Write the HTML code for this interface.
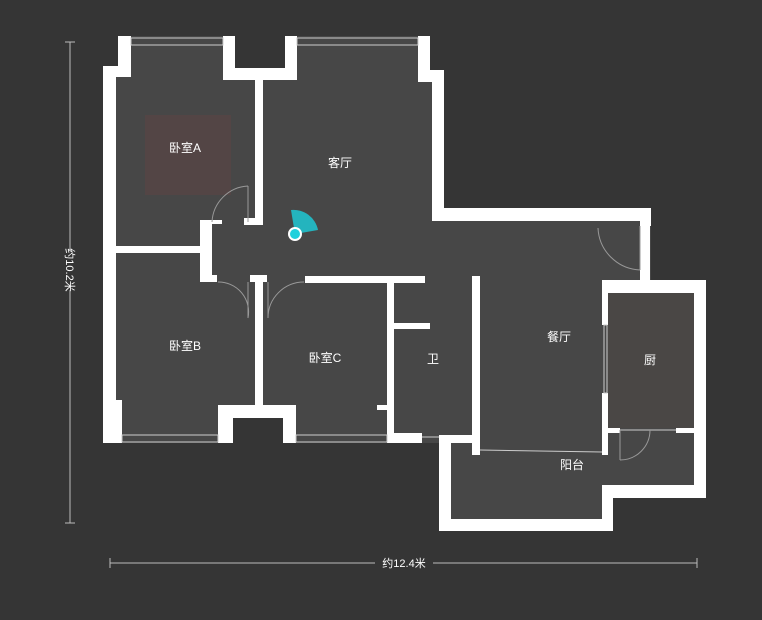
<!DOCTYPE html>
<html><head><meta charset="utf-8"><style>
html,body{margin:0;padding:0;background:#2f2f2f;}
svg{display:block}
text{font-family:"Liberation Sans","Noto Sans CJK SC",sans-serif;fill:#fff;font-size:12px}
</style></head><body>
<svg width="762" height="620" viewBox="0 0 762 620" xmlns="http://www.w3.org/2000/svg">
<rect width="762" height="620" fill="#353535"/>
<!-- floor -->
<polygon points="103,66 118,66 118,36 235,36 235,68 285,68 285,36 430,36 430,70 444,70 444,210 651,210 651,280 706,280 706,498 613,498 613,531 439,531 439,443 296,443 296,418 233,418 233,443 103,443" fill="#474747"/>
<rect x="145" y="115" width="86" height="80" fill="#564545" opacity="0.8"/>
<rect x="608" y="293" width="86" height="135" fill="#4a4745"/>
<g fill="#fff">
<rect x="118" y="36" width="13" height="41"/>
<rect x="103" y="66" width="28" height="11"/>
<rect x="103" y="66" width="13" height="352"/>
<rect x="103" y="400" width="19" height="43"/>
<rect x="223" y="36" width="12" height="44"/>
<rect x="223" y="68" width="74" height="12"/>
<rect x="285" y="36" width="12" height="44"/>
<rect x="255" y="80" width="8" height="145"/>
<rect x="244" y="218" width="19" height="7"/>
<rect x="418" y="36" width="12" height="44"/>
<rect x="418" y="70" width="26" height="12"/>
<rect x="432" y="70" width="12" height="151"/>
<rect x="432" y="208" width="219" height="13"/>
<rect x="640" y="208" width="11" height="18"/>
<rect x="200" y="220" width="12" height="62"/>
<rect x="200" y="220" width="22" height="4"/>
<rect x="103" y="246" width="109" height="7"/>
<rect x="200" y="275" width="17" height="7"/>
<rect x="250" y="275" width="17" height="7"/>
<rect x="255" y="275" width="8" height="135"/>
<rect x="305" y="276" width="120" height="7"/>
<rect x="218" y="405" width="15" height="38"/>
<rect x="218" y="405" width="78" height="13"/>
<rect x="283" y="405" width="13" height="38"/>
<rect x="387" y="276" width="7" height="167"/>
<rect x="394" y="323" width="36" height="6"/>
<rect x="377" y="405" width="10" height="5"/>
<rect x="387" y="433" width="35" height="10"/>
<rect x="439" y="435" width="41" height="8"/>
<rect x="472" y="276" width="8" height="179"/>
<rect x="439" y="435" width="12" height="96"/>
<rect x="439" y="519" width="174" height="12"/>
<rect x="602" y="487" width="11" height="44"/>
<rect x="602" y="485" width="104" height="13"/>
<rect x="640" y="226" width="10" height="56"/>
<rect x="602" y="280" width="104" height="13"/>
<rect x="694" y="280" width="12" height="218"/>
<rect x="602" y="293" width="6" height="32"/>
<rect x="602" y="393" width="6" height="62"/>
<rect x="602" y="428" width="18" height="5"/>
<rect x="676" y="428" width="30" height="5"/>
</g>
<g stroke="#ccc" stroke-width="1" fill="none">
<rect x="131" y="38" width="92" height="7"/>
<rect x="297" y="38" width="121" height="7"/>
<rect x="122" y="435" width="96" height="7"/>
<rect x="296" y="435" width="91" height="7"/>
<rect x="604" y="325" width="3" height="68"/>
<line x1="480" y1="450" x2="602" y2="452"/>
<line x1="422" y1="437" x2="439" y2="437"/>
<line x1="620" y1="430" x2="676" y2="430"/>
<path d="M248,186 A38,38 0 0 0 212,222 M248,186 V222" stroke="#999"/>
<path d="M248,318 A30,30 0 0 0 218,282 M248,282 V318" stroke="#999"/>
<path d="M268,318 A36,36 0 0 1 304,282 M268,282 V318" stroke="#999"/>
<path d="M640,270 A44,44 0 0 1 598,228 M640,226 V270" stroke="#999"/>
<path d="M620,460 A30,30 0 0 0 650,430 M620,430 V460" stroke="#999"/>
</g>
<path d="M295,234 L291,210 A25,25 0 0 1 318,230 Z" fill="#1fc8d4" opacity="0.85"/>
<circle cx="295" cy="234" r="6" fill="#1fd0dc" stroke="#fff" stroke-width="2"/>
<text x="185" y="152" text-anchor="middle">卧室A</text>
<text x="340" y="167" text-anchor="middle">客厅</text>
<text x="185" y="350" text-anchor="middle">卧室B</text>
<text x="325" y="362" text-anchor="middle">卧室C</text>
<text x="433" y="363" text-anchor="middle">卫</text>
<text x="559" y="341" text-anchor="middle">餐厅</text>
<text x="650" y="364" text-anchor="middle">厨</text>
<text x="572" y="469" text-anchor="middle">阳台</text>
<g stroke="#bbb" stroke-width="1">
<line x1="70" y1="42" x2="70" y2="523"/>
<line x1="65" y1="42" x2="75" y2="42"/>
<line x1="65" y1="523" x2="75" y2="523"/>
<line x1="110" y1="563" x2="697" y2="563"/>
<line x1="110" y1="558" x2="110" y2="568"/>
<line x1="697" y1="558" x2="697" y2="568"/>
</g>
<rect x="62" y="250" width="16" height="40" fill="#353535"/>
<text x="70" y="270" text-anchor="middle" transform="rotate(90 70 270)" dy="4" style="font-size:11px">约10.2米</text>
<rect x="375" y="556" width="58" height="14" fill="#353535"/>
<text x="404" y="567" text-anchor="middle" style="font-size:11px">约12.4米</text>
</svg>
</body></html>
